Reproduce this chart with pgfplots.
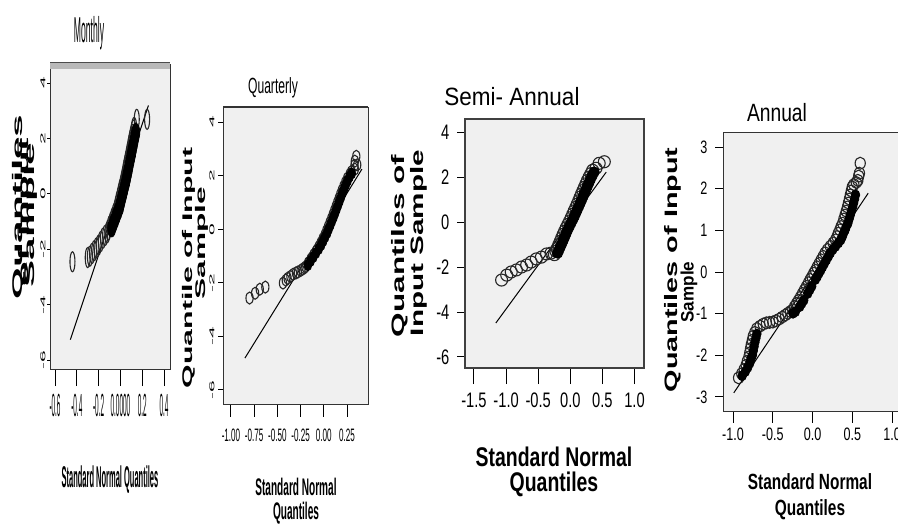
\documentclass[border=0pt]{standalone}
\usepackage{pgfplots}
\pgfplotsset{compat=1.18}
\usepackage{fontspec}
\setmainfont{Liberation Sans}
\definecolor{bg}{RGB}{240,240,240}
\newcommand\sx[2]{\scalebox{#1}[1]{#2}}

\pgfplotsset{
  qq/.style={scale only axis, anchor=north west,
    axis background/.style={fill=bg},
    axis line style={draw=black!80, line width=0.5pt},
    tick align=outside, tick pos=left,
    tick style={black, line width=0.5pt},
    scaled ticks=false, clip=true},
  ref/.style={black, line width=0.5pt, no marks},
}

\begin{document}
\begin{tikzpicture}
\useasboundingbox (0,0) rectangle (449pt,-262pt);
\clip (0,0) rectangle (449pt,-262pt);

% ---------- Monthly ----------
\begin{axis}[qq, at={(25pt,-32.5pt)}, width=60pt, height=152pt,
  xmin=-0.646, xmax=0.455, ymin=-6.32, ymax=4.65,
  xtick={-0.6,-0.4,-0.2,0,0.2,0.4},
  xticklabels={\sx{0.2}{-0.6},\sx{0.2}{-0.4},\sx{0.2}{-0.2},\sx{0.2}{0.0000},\sx{0.2}{0.2},\sx{0.2}{0.4}},
  xticklabel style={font=\fontsize{16}{16}\selectfont, yshift=-5pt},
  ytick={-6,-4,-2,0,2,4},
  yticklabels={\sx{3}{-6},\sx{3}{-4},\sx{3}{-2},\sx{3}{0},\sx{3}{2},\sx{3}{4}},
  yticklabel style={font=\fontsize{3.5}{4}\selectfont, xshift=5.5pt, rotate=90, anchor=south},
  xtick style={/pgfplots/major tick length=8.5pt},
  ytick style={/pgfplots/major tick length=1.5pt},
]
\addplot[ref] coordinates {(-0.459,-5.26) (0.257,3.19)};
\addplot[only marks, mark=o, mark size=5pt, mark options={xscale=0.25, draw=black!85, line width=0.55pt}] coordinates {
(-0.44,-2.45)
(-0.30,-2.30) (-0.28,-2.25) (-0.26,-2.15) (-0.24,-2.05) (-0.22,-1.95) (-0.20,-1.85)
(-0.18,-1.72) (-0.16,-1.60) (-0.14,-1.50) (-0.12,-1.40)
(-0.110,-1.30) (-0.096,-1.15) (-0.081,-1.00) (-0.067,-0.85) (-0.052,-0.70) (-0.038,-0.55)
(-0.029,-0.40) (-0.020,-0.25) (-0.010,-0.10) (-0.001,0.05) (0.008,0.20) (0.018,0.35)
(0.026,0.50) (0.034,0.65) (0.042,0.80) (0.049,0.95) (0.057,1.10) (0.065,1.25)
(0.073,1.40) (0.080,1.55) (0.088,1.70) (0.095,1.85) (0.103,2.00) (0.111,2.15)
(0.120,2.30) (0.126,2.40)
(0.150,2.69) (0.245,2.69)
};
\addplot[only marks, mark=*, mark size=4.5pt, mark options={xscale=0.45, fill=black, draw=black}] coordinates {
(-0.080,-1.23) (-0.066,-1.08) (-0.051,-0.93) (-0.037,-0.78) (-0.022,-0.63) (-0.008,-0.48)
(0.001,-0.33) (0.010,-0.18) (0.020,-0.03) (0.029,0.12) (0.038,0.27) (0.048,0.42)
(0.056,0.57) (0.064,0.72) (0.072,0.87) (0.079,1.02) (0.087,1.17) (0.095,1.32)
(0.103,1.47) (0.110,1.62) (0.118,1.77) (0.125,1.92) (0.133,2.07) (0.141,2.22)
};
\end{axis}

% ---------- Quarterly ----------
\begin{axis}[qq, at={(111.5pt,-53.5pt)}, width=72.5pt, height=149pt,
  xmin=-1.086, xmax=0.476, ymin=-6.56, ymax=4.56,
  xtick={-1,-0.75,-0.5,-0.25,0,0.25},
  xticklabels={\sx{0.45}{-1.00},\sx{0.45}{-0.75},\sx{0.45}{-0.50},\sx{0.45}{-0.25},\sx{0.45}{0.00},\sx{0.45}{0.25}},
  xticklabel style={font=\fontsize{9}{10}\selectfont, yshift=-4pt},
  ytick={-6,-4,-2,0,2,4},
  yticklabels={\sx{3}{-6},\sx{3}{-4},\sx{3}{-2},\sx{3}{0},\sx{3}{2},\sx{3}{4}},
  yticklabel style={font=\fontsize{3.5}{4}\selectfont, xshift=3.5pt, rotate=90, anchor=south},
  xtick style={/pgfplots/major tick length=6pt},
  ytick style={/pgfplots/major tick length=2.5pt},
]
\addplot[ref] coordinates {(-0.85,-4.81) (0.41,2.24)};
\addplot[only marks, mark=o, mark size=3pt, mark options={xscale=0.6, draw=black!85, line width=0.55pt}] coordinates {
(-0.80,-2.57) (-0.74,-2.39) (-0.69,-2.24) (-0.63,-2.16)
(-0.44,-2.01) (-0.41,-1.90) (-0.39,-1.83) (-0.36,-1.76) (-0.33,-1.68) (-0.30,-1.63)
(-0.28,-1.60) (-0.25,-1.54) (-0.23,-1.49) (-0.21,-1.45)
(-0.197,-1.40) (-0.168,-1.25) (-0.139,-1.10) (-0.110,-0.95) (-0.080,-0.80) (-0.054,-0.65)
(-0.032,-0.50) (-0.011,-0.35) (0.011,-0.20) (0.028,-0.05) (0.046,0.10) (0.063,0.25)
(0.081,0.40) (0.097,0.55) (0.113,0.70) (0.129,0.85) (0.145,1.00) (0.161,1.15)
(0.177,1.30) (0.194,1.45) (0.212,1.60) (0.231,1.75) (0.252,1.90) (0.279,2.05) (0.296,2.15)
(0.334,2.24) (0.330,2.38) (0.334,2.54) (0.350,2.72) (0.360,2.40)
};
\addplot[only marks, mark=*, mark size=2.8pt, mark options={xscale=0.7, fill=black, draw=black}] coordinates {
(-0.172,-1.34) (-0.143,-1.19) (-0.114,-1.04) (-0.085,-0.89) (-0.055,-0.74) (-0.029,-0.59)
(-0.007,-0.44) (0.014,-0.29) (0.036,-0.14) (0.053,0.01) (0.071,0.16) (0.088,0.31)
(0.106,0.46) (0.122,0.61) (0.138,0.76) (0.154,0.91) (0.170,1.06) (0.186,1.21)
(0.202,1.36) (0.219,1.51) (0.237,1.66) (0.256,1.81) (0.277,1.96) (0.300,2.08)
};
\end{axis}

% ---------- Semi-Annual ----------
\begin{axis}[qq, at={(232.5pt,-59.5pt)}, width=89.5pt, height=124.5pt,
  axis line style={draw=black!75, line width=1pt},
  xmin=-1.64, xmax=1.148, ymin=-6.49, ymax=4.58,
  xtick={-1.5,-1,-0.5,0,0.5,1},
  xticklabels={\sx{0.7}{-1.5},\sx{0.7}{-1.0},\sx{0.7}{-0.5},\sx{0.7}{0.0},\sx{0.7}{0.5},\sx{0.7}{1.0}},
  xticklabel style={font=\fontsize{10.5}{11}\selectfont, yshift=-4.5pt},
  ytick={-6,-4,-2,0,2,4},
  yticklabels={\sx{0.7}{-6},\sx{0.7}{-4},\sx{0.7}{-2},\sx{0.7}{0},\sx{0.7}{2},\sx{0.7}{4}},
  yticklabel style={font=\fontsize{10.5}{11}\selectfont},
  xtick style={/pgfplots/major tick length=8pt},
  ytick style={/pgfplots/major tick length=4pt},
]
\addplot[ref] coordinates {(-1.16,-4.49) (0.56,2.22)};
\addplot[only marks, mark=o, mark size=3pt, mark options={draw=black!85, line width=0.55pt}] coordinates {
(-1.07,-2.58) (-0.99,-2.36) (-0.92,-2.22) (-0.84,-2.13) (-0.76,-2.00) (-0.68,-1.91)
(-0.61,-1.78) (-0.53,-1.64) (-0.45,-1.56) (-0.37,-1.42) (-0.30,-1.38)
(-0.247,-1.45) (-0.224,-1.30) (-0.201,-1.15) (-0.178,-1.00) (-0.155,-0.85) (-0.133,-0.70)
(-0.111,-0.55) (-0.088,-0.40) (-0.062,-0.25) (-0.036,-0.10) (-0.009,0.05) (0.016,0.20)
(0.039,0.35) (0.062,0.50) (0.086,0.65) (0.109,0.80) (0.132,0.95) (0.153,1.10)
(0.175,1.25) (0.198,1.40) (0.221,1.55) (0.244,1.70) (0.267,1.85) (0.293,2.00)
(0.321,2.15) (0.348,2.30)
(0.40,2.39) (0.45,2.61) (0.53,2.68)
};
\addplot[only marks, mark=*, mark size=2.6pt, mark options={fill=black, draw=black}] coordinates {
(-0.197,-1.38) (-0.174,-1.23) (-0.151,-1.08) (-0.128,-0.93) (-0.105,-0.78) (-0.083,-0.63)
(-0.061,-0.48) (-0.038,-0.33) (-0.012,-0.18) (0.014,-0.03) (0.041,0.12) (0.066,0.27)
(0.089,0.42) (0.112,0.57) (0.136,0.72) (0.159,0.87) (0.182,1.02) (0.203,1.17)
(0.225,1.32) (0.248,1.47) (0.271,1.62) (0.294,1.77) (0.317,1.92) (0.343,2.07) (0.371,2.22)
};
\end{axis}

% ---------- Annual ----------
\begin{axis}[qq, at={(361.5pt,-66pt)}, width=91.5pt, height=140pt,
  xmin=-1.126, xmax=1.176, ymin=-3.36, ymax=3.36,
  xtick={-1,-0.5,0,0.5,1},
  xticklabels={\sx{0.7}{-1.0},\sx{0.7}{-0.5},\sx{0.7}{0.0},\sx{0.7}{0.5},\sx{0.7}{1.0}},
  xticklabel style={font=\fontsize{9}{10}\selectfont},
  ytick={-3,-2,-1,0,1,2,3},
  yticklabels={\sx{0.7}{-3},\sx{0.7}{-2},\sx{0.7}{-1},\sx{0.7}{0},\sx{0.7}{1},\sx{0.7}{2},\sx{0.7}{3}},
  yticklabel style={font=\fontsize{9}{10}\selectfont},
  xtick style={/pgfplots/major tick length=5.5pt},
  ytick style={/pgfplots/major tick length=4pt},
]
\addplot[ref] coordinates {(-0.99,-2.90) (0.70,1.89)};
\addplot[only marks, mark=o, mark size=3pt, mark options={xscale=0.85, draw=black!85, line width=0.55pt}] coordinates {
(-0.93,-2.54) (-0.89,-2.44) (-0.86,-2.34) (-0.835,-2.24) (-0.82,-2.14) (-0.80,-2.04)
(-0.79,-1.94) (-0.78,-1.84) (-0.77,-1.74) (-0.757,-1.64) (-0.745,-1.54) (-0.725,-1.45)
(-0.70,-1.36) (-0.66,-1.30) (-0.62,-1.25) (-0.58,-1.22) (-0.54,-1.21) (-0.50,-1.20)
(-0.46,-1.17) (-0.42,-1.13) (-0.38,-1.08)
(-0.34,-1.03) (-0.31,-0.99) (-0.28,-0.95) (-0.25,-0.91) (-0.225,-0.83) (-0.20,-0.755)
(-0.175,-0.68) (-0.15,-0.60) (-0.125,-0.515) (-0.10,-0.43) (-0.075,-0.345) (-0.05,-0.26)
(-0.028,-0.18) (-0.006,-0.11) (0.016,-0.03) (0.038,0.04) (0.06,0.12) (0.085,0.205)
(0.11,0.29) (0.135,0.375) (0.16,0.46) (0.19,0.54) (0.225,0.615) (0.26,0.695)
(0.29,0.77) (0.31,0.85) (0.325,0.93) (0.345,1.01) (0.36,1.09) (0.38,1.17)
(0.395,1.27) (0.41,1.365) (0.425,1.46) (0.44,1.56) (0.452,1.655) (0.464,1.75)
(0.476,1.85) (0.488,1.945) (0.50,2.04)
(0.52,2.10) (0.55,2.15) (0.57,2.20) (0.58,2.30) (0.59,2.37) (0.60,2.61)
};
\addplot[only marks, mark=*, mark size=2.5pt, mark options={xscale=0.85, fill=black, draw=black}] coordinates {
(-0.885,-2.49) (-0.845,-2.39) (-0.815,-2.29) (-0.79,-2.19) (-0.775,-2.09) (-0.755,-1.99)
(-0.745,-1.89) (-0.735,-1.79) (-0.725,-1.69) (-0.712,-1.59) (-0.70,-1.49)
(-0.245,-0.99) (-0.215,-0.95) (-0.16,-0.83) (-0.135,-0.755) (-0.11,-0.68) (-0.06,-0.515)
(-0.035,-0.43) (-0.01,-0.345) (0.037,-0.18) (0.059,-0.11) (0.081,-0.03) (0.103,0.04)
(0.125,0.12) (0.15,0.205) (0.175,0.29) (0.20,0.375) (0.225,0.46) (0.255,0.54)
(0.29,0.615) (0.325,0.695) (0.355,0.77) (0.375,0.85) (0.39,0.93) (0.41,1.01)
(0.425,1.09) (0.445,1.17) (0.46,1.27) (0.475,1.365) (0.49,1.46) (0.505,1.56)
(0.517,1.655) (0.529,1.75) (0.541,1.85)
};
\end{axis}

% ---------- texts (pixel coordinates) ----------
\begin{scope}[x=0.5pt, y=-0.5pt, every node/.style={inner sep=0pt}]
% top borders
\fill[gray!55] (50,63) rectangle (170,69);
\draw[black!70, line width=0.5pt] (50,63) -- (170,63);
\draw[black!80, line width=1pt] (223,107) -- (368,107);

% titles
\node at (89,33) {\fontsize{18}{18}\selectfont\sx{0.24}{Monthly}};
\node at (273,88) {\fontsize{11}{11}\selectfont\sx{0.55}{Quarterly}};
\node at (512,97) {\fontsize{12.5}{13}\selectfont\sx{0.9}{Semi- Annual}};
\node at (777,113) {\fontsize{12.5}{13}\selectfont\sx{0.77}{Annual}};

% y labels
\node[rotate=90] at (19,207) {\fontsize{7}{7}\selectfont\bfseries\sx{2.9}{Quantiles}};
\node[rotate=90] at (25,212) {\fontsize{7}{7}\selectfont\bfseries\sx{2.9}{of Input}};
\node[rotate=90] at (31,215) {\fontsize{7}{7}\selectfont\bfseries\sx{2.9}{Sample}};

\node[rotate=90] at (189,268) {\fontsize{7}{7}\selectfont\bfseries\sx{2.16}{Quantile of Input}};
\node[rotate=90] at (202,243) {\fontsize{7}{7}\selectfont\bfseries\sx{2.26}{Sample}};

\node[rotate=90] at (400,246) {\fontsize{9}{9}\selectfont\bfseries\sx{1.75}{Quantiles of}};
\node[rotate=90] at (419,243) {\fontsize{9}{9}\selectfont\bfseries\sx{1.65}{Input Sample}};

\node[rotate=90] at (673,270) {\fontsize{9}{9}\selectfont\bfseries\sx{1.6}{Quantiles of Input}};
\node[rotate=90] at (689,292) {\fontsize{9}{9}\selectfont\bfseries\sx{0.95}{Sample}};

% x labels
\node at (110,480) {\fontsize{15}{15}\selectfont\bfseries\sx{0.25}{Standard Normal Quantiles}};
\node at (296,487) {\fontsize{12}{12}\selectfont\bfseries\sx{0.42}{Standard Normal}};
\node at (296,513) {\fontsize{12}{12}\selectfont\bfseries\sx{0.42}{Quantiles}};
\node at (554,457) {\fontsize{13.5}{14}\selectfont\bfseries\sx{0.72}{Standard Normal}};
\node at (554,484) {\fontsize{13.5}{14}\selectfont\bfseries\sx{0.72}{Quantiles}};
\node at (810,482) {\fontsize{11}{11}\selectfont\bfseries\sx{0.7}{Standard Normal}};
\node at (810,510) {\fontsize{11}{11}\selectfont\bfseries\sx{0.7}{Quantiles}};
\end{scope}
\end{tikzpicture}
\end{document}
